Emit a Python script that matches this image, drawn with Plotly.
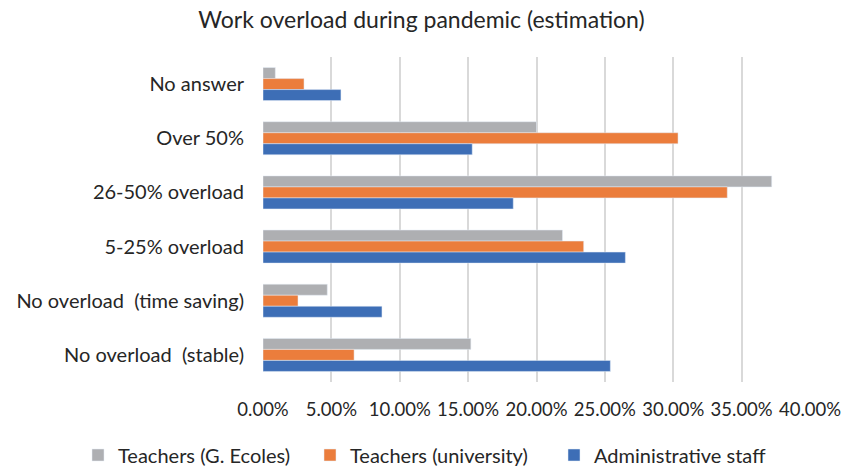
import plotly.graph_objects as go

categories = ["No answer", "Over 50%", "26-50% overload", "5-25% overload",
              "No overload  (time saving)", "No overload  (stable)"]
teachers_ecoles = [0.009, 0.200, 0.372, 0.219, 0.047, 0.152]
teachers_univ = [0.030, 0.3035, 0.3395, 0.2345, 0.0256, 0.0666]
admin_staff = [0.057, 0.153, 0.183, 0.265, 0.087, 0.254]
tick_vals = [0, 0.05, 0.10, 0.15, 0.20, 0.25, 0.30, 0.35, 0.40]

FONT = "Lato"
W, H = 843, 467
fig = go.Figure()
fig.add_trace(go.Bar(y=categories, x=teachers_ecoles, orientation="h",
                     name="Teachers (G. Ecoles)", marker_color="#AEAFB2",
                     legend="legend"))
fig.add_trace(go.Bar(y=categories, x=teachers_univ, orientation="h",
                     name="Teachers (university)", marker_color="#EB7D3C",
                     legend="legend2"))
fig.add_trace(go.Bar(y=categories, x=admin_staff, orientation="h",
                     name="Administrative staff", marker_color="#3D6EB6",
                     legend="legend3"))

def leg(xpix):
    return dict(orientation="h", x=xpix / W, xanchor="left", xref="container",
                y=1 - 455 / H, yanchor="middle", yref="container",
                font=dict(size=20), itemwidth=30, bgcolor="rgba(0,0,0,0)",
                borderwidth=0)

fig.update_layout(
    width=W, height=H,
    margin=dict(l=263, r=33, t=57, b=85, autoexpand=False),
    paper_bgcolor="white", plot_bgcolor="white",
    barmode="group", bargap=0.39, bargroupgap=0,
    font=dict(family=FONT, size=20, color="#262626"),
    title=dict(text="Work overload during pandemic (estimation)",
               x=0.5, xanchor="center", xref="container", y=1 - 20 / H,
               yanchor="middle",
               font=dict(family=FONT, size=23, color="#262626")),
    xaxis=dict(range=[0, 0.40], tickvals=tick_vals, tickformat=".2%",
               showgrid=True, gridcolor="#D9D9D9", gridwidth=1.5,
               zeroline=False, showline=False, ticks="",
               automargin=False, ticklabelstandoff=14,
               tickfont=dict(size=18.5)),
    yaxis=dict(autorange="reversed", showgrid=False, zeroline=False,
               showline=False, ticks="", automargin=False,
               ticklabelstandoff=18,
               tickfont=dict(size=20)),
    legend=leg(78),
    legend2=leg(310),
    legend3=leg(554),
    showlegend=True,
)
fig.write_html("out.html", config={"displayModeBar": False},
               post_script="document.body.style.margin='0';document.body.style.padding='0';")
